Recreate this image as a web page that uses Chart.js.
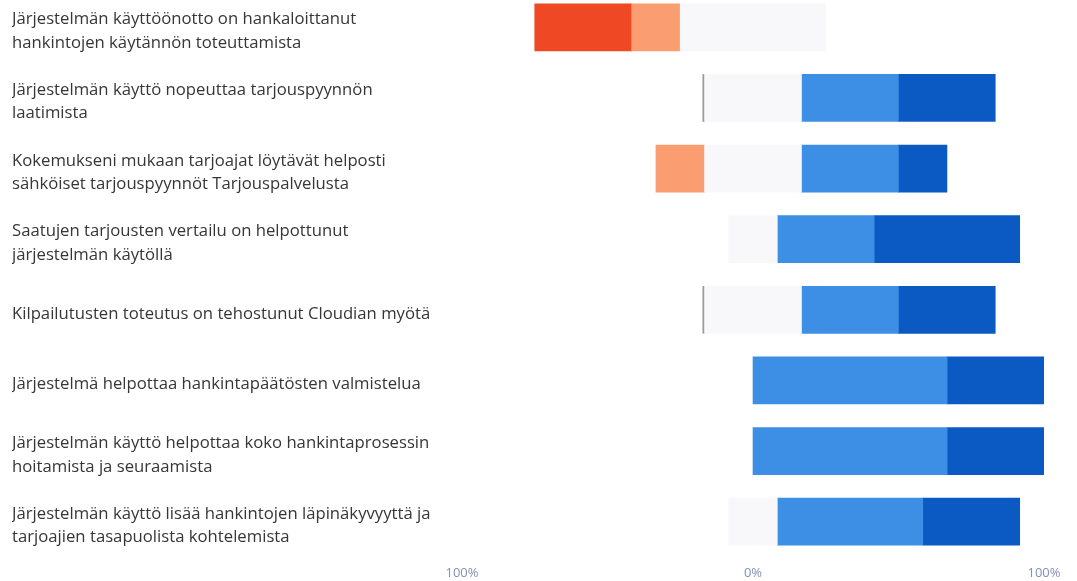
<!DOCTYPE html>
<html>
<head>
<meta charset="utf-8">
<script src="https://cdn.jsdelivr.net/npm/chart.js@4"></script>
<style>
    html, body { margin: 0; padding: 0; background: #fff; overflow: hidden; }
    #wrap { position: absolute; left: 0; top: -8px; width: 1077px; height: 595px; }
</style>
</head>
<body>
<div id="wrap"><canvas id="likertChart"></canvas></div>
<script>
// Statements (multi-line labels)
const statements = [
    ['Järjestelmän käyttöönotto on hankaloittanut', 'hankintojen käytännön toteuttamista'],
    ['Järjestelmän käyttö nopeuttaa tarjouspyynnön', 'laatimista'],
    ['Kokemukseni mukaan tarjoajat löytävät helposti', 'sähköiset tarjouspyynnöt Tarjouspalvelusta'],
    ['Saatujen tarjousten vertailu on helpottunut', 'järjestelmän käytöllä'],
    'Kilpailutusten toteutus on tehostunut Cloudian myötä',
    'Järjestelmä helpottaa hankintapäätösten valmistelua',
    ['Järjestelmän käyttö helpottaa koko hankintaprosessin', 'hoitamista ja seuraamista'],
    ['Järjestelmän käyttö lisää hankintojen läpinäkyvyyttä ja', 'tarjoajien tasapuolista kohtelemista']
];

// Shares of answers (%)
const stronglyDisagree = [33.3, 0, 0, 0, 0, 0, 0, 0];
const disagree         = [16.7, 0, 16.7, 0, 0, 0, 0, 0];
const noAnswer         = [0, 0.6, 0, 0, 0.6, 0, 0, 0];
const neutral          = [50, 33.3, 33.3, 16.7, 33.3, 0, 0, 16.7];
const agree            = [0, 33.3, 33.3, 33.3, 33.3, 66.7, 66.7, 50];
const stronglyAgree    = [0, 33.3, 16.7, 50, 33.3, 33.3, 33.3, 33.3];

const xTicks = [-100, 0, 100];

// zeros become null so no sliver is drawn; neutral is split half on each side of zero
const pos = arr => arr.map(v => v || null);
const neg = arr => arr.map(v => v ? -v : null);
const neutralHalfNeg = neg(neutral.map(v => v / 2));
const neutralHalfPos = pos(neutral.map(v => v / 2));

const ctx = document.getElementById('likertChart').getContext('2d');
const likertChart = new Chart(ctx, {
    type: 'bar',
    data: {
        labels: statements,
        datasets: [
            { label: 'Neutraali', data: neutralHalfNeg, backgroundColor: '#f8f8fa' },
            { label: 'Ei vastausta', data: neg(noAnswer), backgroundColor: '#9a9a9a' },
            { label: 'Eri mieltä', data: neg(disagree), backgroundColor: '#fa9e72' },
            { label: 'Täysin eri mieltä', data: neg(stronglyDisagree), backgroundColor: '#ee4824' },
            { label: 'Neutraali ', data: neutralHalfPos, backgroundColor: '#f8f8fa' },
            { label: 'Samaa mieltä', data: pos(agree), backgroundColor: '#3d8fe5' },
            { label: 'Täysin samaa mieltä', data: pos(stronglyAgree), backgroundColor: '#0b59c3' }
        ]
    },
    options: {
        indexAxis: 'y',
        responsive: true,
        maintainAspectRatio: false,
        animation: false,
        barThickness: 47,
        layout: { padding: { left: 12, right: 33, top: 0, bottom: 0 } },
        plugins: {
            legend: { display: false },
            tooltip: { enabled: false }
        },
        scales: {
            x: {
                stacked: true,
                min: -100,
                max: 100,
                afterBuildTicks: scale => { scale.ticks = xTicks.map(v => ({ value: v })); },
                afterFit: scale => { scale.height = 30; },
                grid: { display: false, drawTicks: false },
                border: { display: false },
                ticks: {
                    padding: 8,
                    color: '#8190b6',
                    font: { family: 'Open Sans', size: 13 },
                    callback: v => Math.abs(v) + '%'
                }
            },
            y: {
                stacked: true,
                afterFit: scale => {
                    scale.width = 450;
                    scale.paddingTop = 0;
                    scale.paddingBottom = 0;
                },
                grid: { display: false, drawTicks: false },
                border: { display: false },
                ticks: {
                    autoSkip: false,
                    crossAlign: 'far',
                    labelOffset: 4,
                    color: '#363636',
                    font: { family: 'Open Sans', size: 16.7, lineHeight: 1.4 }
                }
            }
        }
    }
});
</script>
</body>
</html>
